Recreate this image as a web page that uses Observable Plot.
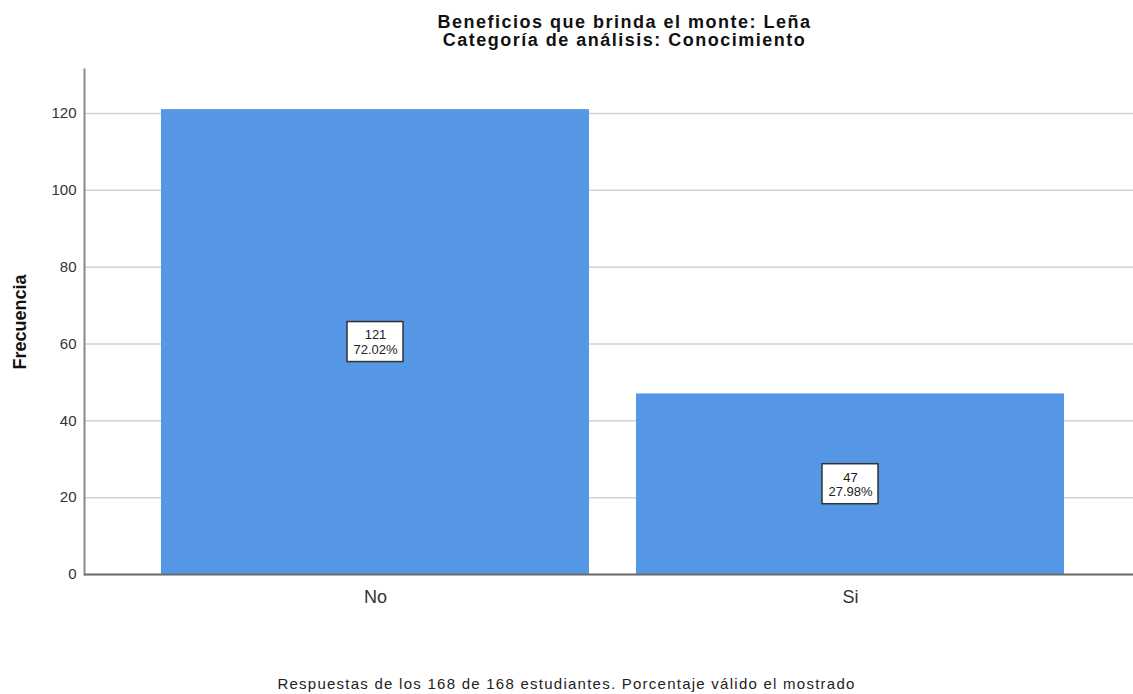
<!DOCTYPE html>
<html><head><meta charset="utf-8">
<script src="https://cdn.jsdelivr.net/npm/d3@7"></script>
<script src="https://cdn.jsdelivr.net/npm/@observablehq/plot@0.6"></script>
<style>
body{margin:0;background:#fff;font-family:"Liberation Sans",Arial,sans-serif;}
#title{height:60px;box-sizing:border-box;padding-top:13px;padding-left:116px;text-align:center;font-weight:bold;font-size:18px;line-height:18px;letter-spacing:1.5px;color:#111;}
#chart{height:600px;}
#caption{box-sizing:border-box;padding-top:14px;text-align:center;font-size:15px;line-height:20px;letter-spacing:1.25px;color:#222;}
</style></head>
<body>
<div id="title">Beneficios que brinda el monte: Leña<br>Categoría de análisis: Conocimiento</div>
<div id="chart"></div>
<div id="caption">Respuestas de los 168 de 168 estudiantes. Porcentaje válido el mostrado</div>
<script>
const categories = ["No", "Si"];
const counts = [121, 47];
const percents = ["72.02%", "27.98%"];
const yTicks = [0, 20, 40, 60, 80, 100, 120];
const yMax = 131.45;
const yLabel = "Frecuencia";

const data = categories.map((c, i) => ({cat: c, n: counts[i], pct: percents[i]}));

const plot = Plot.plot({
  width: 1133, height: 600,
  marginTop: 9, marginBottom: 86, marginLeft: 84, marginRight: 0,
  style: {fontFamily: "Liberation Sans, Arial, sans-serif", background: "white", overflow: "visible"},
  x: {domain: categories, paddingInner: 0.1, paddingOuter: 0.152, align: 0.526, label: null},
  y: {domain: [0, yMax], label: null},
  marks: [
    Plot.gridY(yTicks, {stroke: "#d2d2d2", strokeOpacity: 1, strokeWidth: 1.5}),
    Plot.barY(data, {x: "cat", y: "n", fill: "#5596e5"}),
    Plot.frame({anchor: "left", stroke: "#8a8a8a", strokeWidth: 2}),
    Plot.ruleY([0], {stroke: "#6b6b6b", strokeWidth: 2}),
    Plot.axisY(yTicks, {tickSize: 0, tickPadding: 8, fontSize: 15, fill: "#333", label: null}),
    Plot.axisX({tickSize: 0, tickPadding: 16, fontSize: 18, fill: "#333", label: null}),
    Plot.text([yLabel], {frameAnchor: "left", textAnchor: "middle", rotate: -90, dx: -64, fontWeight: "bold", fontSize: 18, fill: "#111", ariaLabel: "ylabel"}),
    Plot.barY(data, {x: "cat", y1: d => d.n / 2, y2: d => d.n / 2, insetLeft: 186, insetRight: 186, insetTop: -20, insetBottom: -20, fill: "white", stroke: "#333", strokeWidth: 1.5}),
    Plot.text(data, {x: "cat", y: d => d.n / 2, text: d => `${d.n}\n${d.pct}`, fontSize: 13, lineHeight: 1.12, fill: "#222"})
  ]
});
d3.select(plot).select('g[aria-label="ylabel"]').style("letter-spacing", "2px");
document.getElementById("chart").appendChild(plot);
</script>
</body></html>
